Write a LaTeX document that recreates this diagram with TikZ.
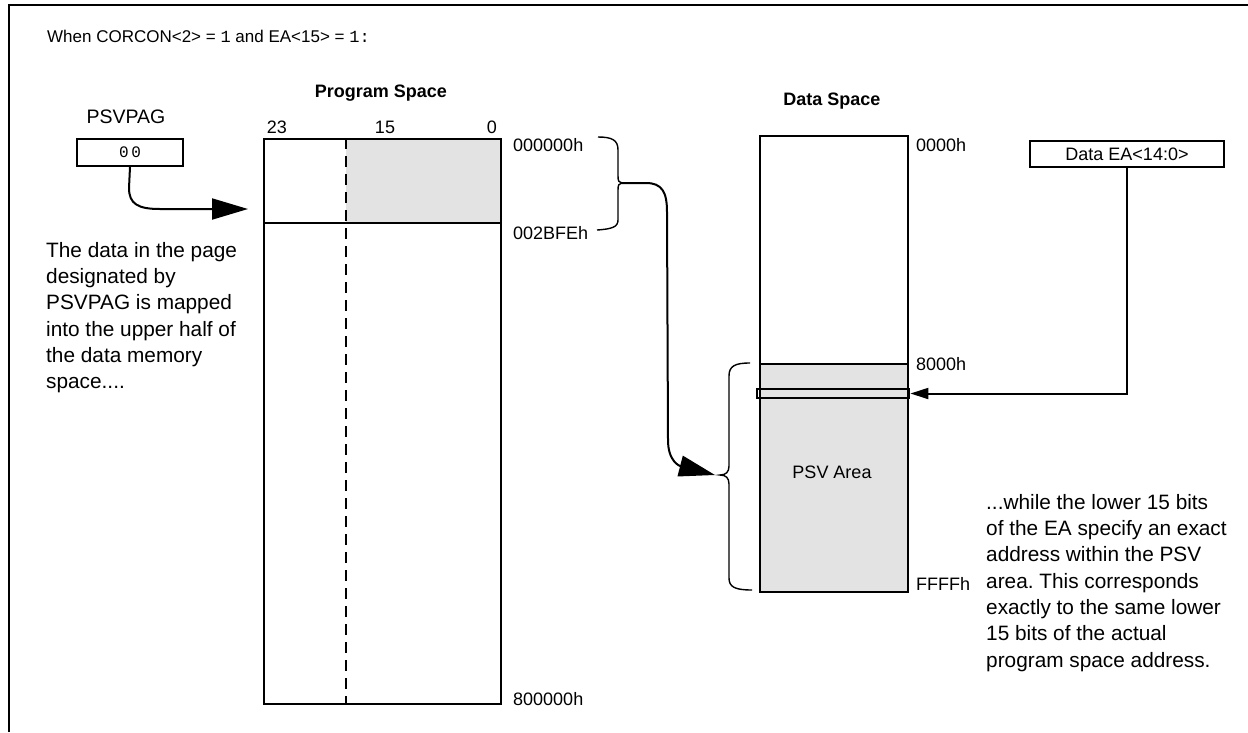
\documentclass[tikz,border=0pt]{standalone}
\usepackage{fontspec}
\setmainfont{Liberation Sans}
\setmonofont{Liberation Mono}
\usetikzlibrary{arrows.meta}
\definecolor{psvgray}{HTML}{E3E3E3}
\frenchspacing
\begin{document}
\begin{tikzpicture}[x=1pt,y=-1pt,
  frame/.style={line width=2.5pt},
  memline/.style={line width=2pt},
  box/.style={draw,line width=2pt,inner sep=0pt},
  lbl/.style={font=\fontsize{18}{20}\selectfont,inner sep=0pt},
  blbl/.style={font=\bfseries\fontsize{18}{20}\selectfont,inner sep=0pt},
  hdr/.style={font=\fontsize{17}{20}\selectfont,inner sep=0pt},
  body/.style={font=\fontsize{20.8}{26.3}\selectfont,inner sep=0pt,align=left},
  bracep/.style={line width=1.4pt},
  bigarrow/.style={line width=2pt,-{Triangle[length=36pt,width=21pt]}},
  smallarrow/.style={line width=2pt,-{Triangle[length=18pt,width=11pt]}}]
\useasboundingbox (0,0) rectangle (1248,732);
% frame (top and left only)
\draw[frame] (9,732) -- (9,5) -- (1248,5);
% title
\node[hdr,anchor=base west] (title) at (47,42.5) {When CORCON<2> = \texttt{1} and EA<15> = \texttt{1:}};
% ---------- PSVPAG ----------
\node[lbl,font=\fontsize{19.5}{20}\selectfont] (psvlbl) at (126,117) {PSVPAG};
\node[box,minimum width=106pt,minimum height=27pt,font=\ttfamily\fontsize{16}{18}\selectfont] (psv) at (130,152.5) {0\,0};
\coordinate (psvtip) at (248,209);
\draw[bigarrow] (psv.south) -- (129,188) .. controls (129,204) and (138,209) .. (160,209) -- (psvtip);
% left paragraph
\node[body,anchor=north west] (ltext) at (46,242) {The data in the page\\designated by\\PSVPAG is mapped\\into the upper half of\\the data memory\\space....};
% ---------- Program space ----------
\node[blbl] (pstitle) at (381,93) {Program Space};
\fill[psvgray] (346,138) rectangle (500,223);
\node[box,anchor=north west,minimum width=237pt,minimum height=565pt] (prog) at (263,138) {};
\draw[memline] (prog.west |- 0,223) -- (prog.east |- 0,223);
\draw[memline,dash pattern=on 11pt off 7pt] (346,138) -- (346,703);
\node[lbl] (b23) at (277,127) {23};
\node[lbl] (b15) at (385,127) {15};
\node[lbl] (b0) at (492,127) {0};
\node[lbl,anchor=west] (a0) at (513,145) {000000h};
\node[lbl,anchor=west] (a1) at (513,233) {002BFEh};
\node[lbl,anchor=west] (a2) at (513,699) {800000h};
% brace on program space
\coordinate (pbt) at (622,183);
\draw[bracep] (598,137) .. controls (612,137) and (618,140) .. (618,150) -- (618,176)
  .. controls (618,181) and (619,183) .. (pbt)
  .. controls (619,183) and (618,185) .. (618,190) -- (618,220)
  .. controls (618,227) and (612,229) .. (597,230);
% ---------- Data space ----------
\node[blbl] (dstitle) at (832,101) {Data Space};
\fill[psvgray] (759,364) rectangle (907,591);
\node[box,anchor=north west,minimum width=148pt,minimum height=456pt] (data) at (759,135) {};
\draw[memline] (data.west |- 0,364) -- (data.east |- 0,364);
\node[draw,line width=2.8pt,inner sep=0pt,minimum width=152pt,minimum height=9pt] (strip) at (833,393.5) {};
\node[lbl] (psvarea) at (832,472) {PSV Area};
\node[lbl,anchor=west] (d0) at (916,145) {0000h};
\node[lbl,anchor=west] (d1) at (916,364) {8000h};
\node[lbl,anchor=west] (d2) at (916,584) {FFFFh};
% brace on data space
\coordinate (dbt) at (720,475);
\draw[bracep] (750,363) .. controls (735,363) and (729,366) .. (729,376) -- (729,466)
  .. controls (729,472) and (726,475) .. (dbt)
  .. controls (726,475) and (729,478) .. (729,484) -- (729,578)
  .. controls (729,587) and (735,590) .. (752,590);
% mapping arrow
\coordinate (psvend) at (715,475);
\draw[bigarrow] (pbt) -- (646,183) .. controls (662,183) and (667,192) .. (667,212)
  -- (668,440) .. controls (668,462) and (680,466) .. (psvend);
% ---------- Data EA ----------
\node[box,minimum width=194pt,minimum height=26pt,font=\fontsize{18}{20}\selectfont] (ea) at (1127,154) {Data EA<14:0>};
\draw[smallarrow] (ea.south) |- (strip.east);
% right paragraph
\node[body,anchor=north west] (rtext) at (986,494) {...while the lower 15 bits\\of the EA specify an exact\\address within the PSV\\area. This corresponds\\exactly to the same lower\\15 bits of the actual\\program space address.};
\end{tikzpicture}
\end{document}
